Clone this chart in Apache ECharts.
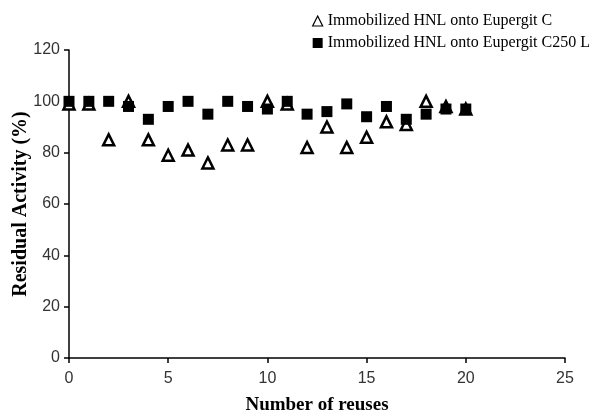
<!DOCTYPE html>
<html>
<head>
<meta charset="utf-8">
<script src="https://cdn.jsdelivr.net/npm/echarts@6/dist/echarts.min.js"></script>
<style>
  html, body { margin: 0; padding: 0; background: #fff; }
  #chart { width: 590px; height: 418px; }
</style>
</head>
<body>
<div id="chart"></div>
<script>
// number of reuses
let reuses = [0, 1, 2, 3, 4, 5, 6, 7, 8, 9, 10, 11, 12, 13, 14, 15, 16, 17, 18, 19, 20];
// residual activity (%)
let eupergitC = [99, 99, 85, 100, 85, 79, 81, 76, 83, 83, 100, 99, 82, 90, 82, 86, 92, 91, 100, 98, 97];
let eupergitC250L = [100, 100, 100, 98, 93, 98, 100, 95, 100, 98, 97, 100, 95, 96, 99, 94, 98, 93, 95, 97, 97];
let xTicks = [0, 5, 10, 15, 20, 25];
let yTicks = [0, 20, 40, 60, 80, 100, 120];

let chart = echarts.init(document.getElementById('chart'));

let pairs = function (ys) {
    return reuses.map((x, i) => [x, ys[i]]);
};

let axisLine = { show: true, lineStyle: { color: '#000', width: 1.5 } };

let option = {
    backgroundColor: '#fff',
    animation: false,
    grid: { left: 69, right: 25, top: 50, bottom: 60, outerBoundsMode: 'none', containLabel: false },
    legend: {
        orient: 'vertical',
        right: -5,
        top: 8,
        itemGap: 6,
        itemWidth: 10,
        itemHeight: 10,
        textStyle: { fontFamily: 'Liberation Serif', fontSize: 16, color: '#000' },
        data: [
            { name: 'Immobilized HNL onto Eupergit C', icon: 'triangle',
              itemStyle: { color: '#fff', borderColor: '#000', borderWidth: 1.2 } },
            { name: 'Immobilized HNL onto Eupergit C250 L', icon: 'rect',
              itemStyle: { color: '#000' } }
        ]
    },
    xAxis: {
        type: 'value',
        min: 0,
        max: 25,
        interval: 5,
        name: 'Number of reuses',
        nameLocation: 'middle',
        nameGap: 38,
        nameMoveOverlap: false,
        nameTextStyle: { fontFamily: 'Liberation Serif', fontWeight: 'bold', fontSize: 19, color: '#000' },
        axisLine: axisLine,
        axisTick: { show: true, length: 5, lineStyle: { color: '#000', width: 1.5 } },
        axisLabel: { fontFamily: 'Liberation Sans', fontSize: 16, color: '#333', margin: 13,
            formatter: v => xTicks.includes(v) ? String(v) : '' },
        splitLine: { show: false }
    },
    yAxis: {
        type: 'value',
        min: 0,
        max: 120,
        interval: 20,
        name: 'Residual Activity (%)',
        nameLocation: 'middle',
        nameGap: 38,
        nameMoveOverlap: false,
        nameTextStyle: { fontFamily: 'Liberation Serif', fontWeight: 'bold', fontSize: 20, color: '#000' },
        axisLine: axisLine,
        axisTick: { show: true, length: 5, lineStyle: { color: '#000', width: 1.5 } },
        axisLabel: { fontFamily: 'Liberation Sans', fontSize: 16, color: '#333', margin: 9,
            formatter: v => yTicks.includes(v) ? String(v) : '' },
        splitLine: { show: false }
    },
    series: [
        {
            name: 'Immobilized HNL onto Eupergit C',
            type: 'scatter',
            symbol: 'triangle',
            symbolSize: 11,
            itemStyle: { color: '#fff', borderColor: '#000', borderWidth: 2.5, opacity: 1 },
            data: pairs(eupergitC)
        },
        {
            name: 'Immobilized HNL onto Eupergit C250 L',
            type: 'scatter',
            symbol: 'rect',
            symbolSize: 11,
            itemStyle: { color: '#000', opacity: 1 },
            data: pairs(eupergitC250L)
        }
    ]
};
chart.setOption(option);
</script>
</body>
</html>
